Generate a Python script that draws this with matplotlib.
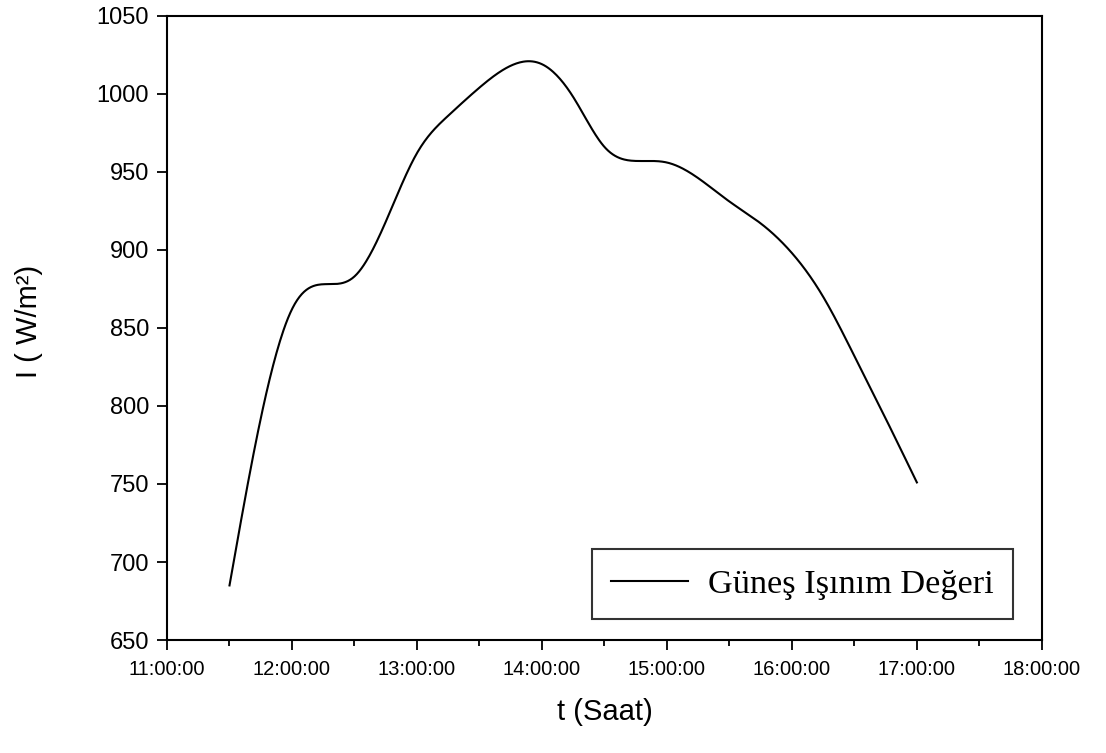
import numpy as np
import matplotlib
matplotlib.use("Agg")
import matplotlib.pyplot as plt
from matplotlib.ticker import MultipleLocator

# Measurement times (hours of day) and solar irradiance readings (W/m²)
saat = [11.50, 11.75, 12.00, 12.25, 12.50, 12.75, 13.00, 13.25, 13.50, 13.75,
        14.00, 14.25, 14.50, 14.75, 15.00, 15.25, 15.50, 15.75, 16.00, 16.25,
        16.50, 16.75, 17.00]
isinim = [685, 792, 862, 878, 883, 918, 962, 986, 1004, 1018,
          1019, 998, 966, 957, 956, 946, 931, 917, 898, 870,
          832, 792, 751]

x_ticks = [11, 12, 13, 14, 15, 16, 17, 18]
x_tick_labels = ["11:00:00", "12:00:00", "13:00:00", "14:00:00",
                 "15:00:00", "16:00:00", "17:00:00", "18:00:00"]
y_ticks = [650, 700, 750, 800, 850, 900, 950, 1000, 1050]
seri_adi = "Güneş Işınım Değeri"


def natural_spline(x, y, n=600):
    """Natural cubic spline through the readings, for a smooth trace."""
    x = np.asarray(x, float)
    y = np.asarray(y, float)
    k = len(x)
    h = np.diff(x)
    A = np.zeros((k, k))
    b = np.zeros(k)
    A[0, 0] = A[-1, -1] = 1.0
    for i in range(1, k - 1):
        A[i, i - 1] = h[i - 1]
        A[i, i] = 2 * (h[i - 1] + h[i])
        A[i, i + 1] = h[i]
        b[i] = 6 * ((y[i + 1] - y[i]) / h[i] - (y[i] - y[i - 1]) / h[i - 1])
    m = np.linalg.solve(A, b)
    xs = np.linspace(x[0], x[-1], n)
    idx = np.clip(np.searchsorted(x, xs) - 1, 0, k - 2)
    x0, x1 = x[idx], x[idx + 1]
    hh = x1 - x0
    t0 = x1 - xs
    t1 = xs - x0
    ys = (m[idx] * t0 ** 3 / (6 * hh) + m[idx + 1] * t1 ** 3 / (6 * hh)
          + (y[idx] / hh - m[idx] * hh / 6) * t0
          + (y[idx + 1] / hh - m[idx + 1] * hh / 6) * t1)
    return xs, ys


fig = plt.figure(figsize=(11.06, 7.53), dpi=100)
ax = fig.add_axes([0.151, 0.150, 0.791, 0.829])

xs, ys = natural_spline(saat, isinim)
ax.plot(xs, ys, color="black", linewidth=1.5, label=seri_adi)

ax.set_xlim(11, 18)
ax.set_ylim(650, 1050)
ax.set_xticks(x_ticks)
ax.set_xticklabels(x_tick_labels)
ax.set_yticks(y_ticks)
ax.xaxis.set_minor_locator(MultipleLocator(0.5))

for lbl in ax.get_xticklabels():
    lbl.set_fontfamily("Liberation Sans")
    lbl.set_fontsize(14.5)
for lbl in ax.get_yticklabels():
    lbl.set_fontfamily("Liberation Sans")
    lbl.set_fontsize(17)

ax.tick_params(which="major", direction="out", length=7, width=1.3,
               pad=6, top=False, right=False)
ax.tick_params(axis="x", which="major", pad=7.5)
ax.tick_params(which="minor", direction="out", length=4, width=1.3,
               top=False, right=False)
for sp in ax.spines.values():
    sp.set_linewidth(1.5)

ax.set_xlabel("t (Saat)", fontfamily="Liberation Sans", fontsize=21)
ax.xaxis.label.set_va("center")
ax.xaxis.set_label_coords(0.5, -0.115)
ax.set_ylabel("I ( W/m²)", fontfamily="Liberation Sans", fontsize=21)
ax.yaxis.label.set_va("center")
ax.yaxis.set_label_coords(-0.158, 0.51)

leg = ax.legend(loc="lower right", bbox_to_anchor=(0.967, 0.034),
                borderaxespad=0, fancybox=False, frameon=True,
                prop=dict(family="Liberation Serif", size=24.7),
                handlelength=2.25, handletextpad=0.58, borderpad=0.56)
leg.get_frame().set_edgecolor("black")
leg.get_frame().set_linewidth(1.5)

fig.savefig("out.png", dpi=100, facecolor="white")
